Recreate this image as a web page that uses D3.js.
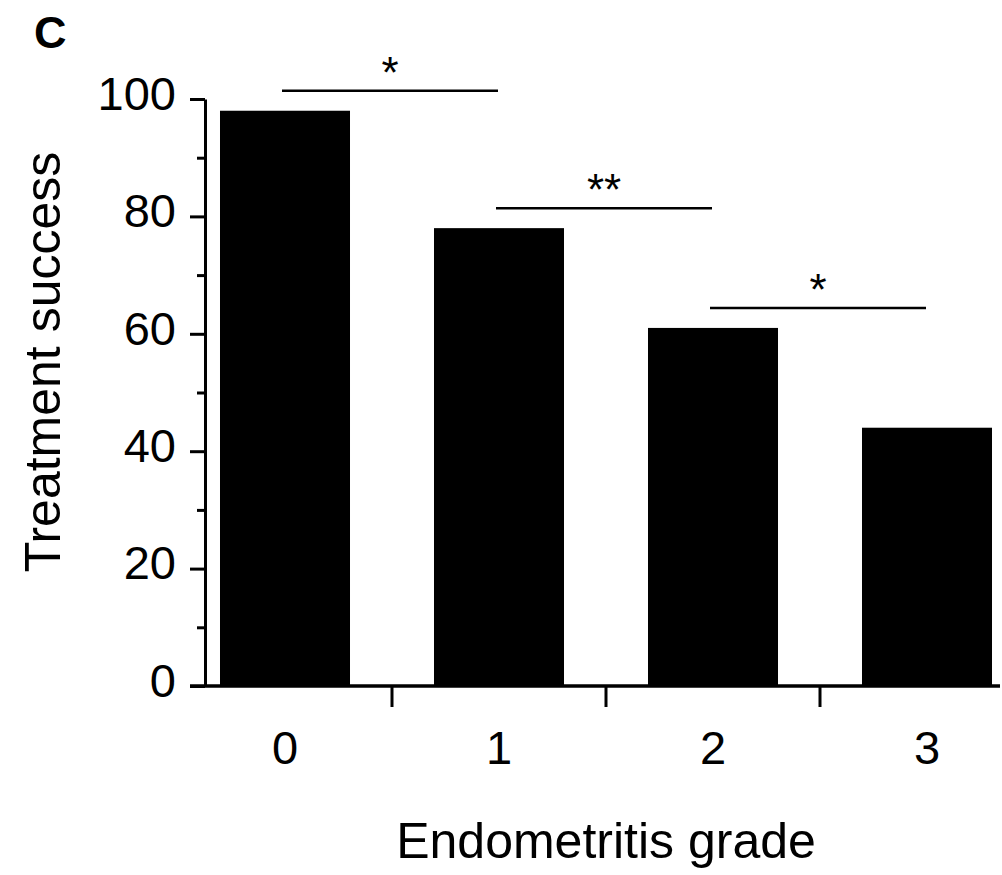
<!DOCTYPE html>
<html>
<head>
<meta charset="utf-8">
<script src="https://cdn.jsdelivr.net/npm/d3@7"></script>
<style>
  body { margin: 0; background: #fff; }
  text { font-family: "Liberation Sans", Arial, sans-serif; fill: #000; }
</style>
</head>
<body>
<script>
// Data
const grades = ["0", "1", "2", "3"];
const success = [98, 78, 61, 44];
const yTicks = [0, 20, 40, 60, 80, 100];
const yMinorTicks = [10, 30, 50, 70, 90];
// significance brackets: from grade, to grade, label, level
const sigFrom = ["0", "1", "2"];
const sigTo = ["1", "2", "3"];
const sigLabels = ["*", "**", "*"];
const sigLevels = [101.4, 81.4, 64.4];

const width = 1002, height = 875;

const svg = d3.select("body").append("svg")
    .attr("width", width)
    .attr("height", height);

// Scales
const x = d3.scaleBand()
    .domain(grades)
    .range([178, 1034])
    .paddingInner(0.3925)
    .paddingOuter(0.19625);

const y = d3.scaleLinear()
    .domain([0, 100])
    .range([686, 99]);

const axisLeftX = 205;
const step = x.step();

// Bars
svg.append("g")
    .selectAll("rect")
    .data(success)
    .enter()
    .append("rect")
    .attr("x", (d, i) => x(grades[i]))
    .attr("y", d => y(d))
    .attr("width", x.bandwidth())
    .attr("height", d => y(0) - y(d))
    .attr("fill", "#000");

// Y axis
const yAxis = svg.append("g")
    .attr("transform", `translate(${axisLeftX},0)`)
    .call(d3.axisLeft(y).tickValues(yTicks).tickSize(15).tickPadding(14).tickSizeOuter(0));

yAxis.select(".domain").attr("stroke-width", 3);
yAxis.selectAll(".tick line").attr("stroke-width", 3);
yAxis.selectAll(".tick text")
    .attr("font-size", 47)
    .attr("font-family", "Liberation Sans, Arial, sans-serif")
    .attr("dy", "0.22em");

svg.append("g")
    .attr("transform", `translate(${axisLeftX},0)`)
    .call(d3.axisLeft(y).tickValues(yMinorTicks).tickSize(8).tickFormat(""))
    .call(g => g.select(".domain").remove())
    .selectAll(".tick line").attr("stroke-width", 3);

// X axis line
svg.append("line")
    .attr("x1", axisLeftX - 15)
    .attr("x2", 1000)
    .attr("y1", y(0))
    .attr("y2", y(0))
    .attr("stroke", "#000")
    .attr("stroke-width", 3.5);

// X ticks between categories
svg.append("g")
    .selectAll("line")
    .data(grades.slice(0, -1))
    .enter()
    .append("line")
    .attr("x1", d => x(d) + x.bandwidth() + (step - x.bandwidth()) / 2)
    .attr("x2", d => x(d) + x.bandwidth() + (step - x.bandwidth()) / 2)
    .attr("y1", y(0))
    .attr("y2", y(0) + 21)
    .attr("stroke", "#000")
    .attr("stroke-width", 3);

// X tick labels
svg.append("g")
    .selectAll("text")
    .data(grades)
    .enter()
    .append("text")
    .attr("x", d => x(d) + x.bandwidth() / 2)
    .attr("y", 764)
    .attr("text-anchor", "middle")
    .attr("font-size", 47)
    .text(d => d);

// Significance brackets
const sig = svg.append("g");
sigLabels.forEach((lab, i) => {
    const x1 = x(sigFrom[i]) + x.bandwidth() / 2 - 3;
    const x2 = x(sigTo[i]) + x.bandwidth() / 2 - 1;
    sig.append("line")
        .attr("x1", x1)
        .attr("x2", x2)
        .attr("y1", y(sigLevels[i]))
        .attr("y2", y(sigLevels[i]))
        .attr("stroke", "#000")
        .attr("stroke-width", 2.5);
    sig.append("text")
        .attr("x", (x1 + x2) / 2)
        .attr("y", y(sigLevels[i]) - 3)
        .attr("text-anchor", "middle")
        .attr("font-size", 44)
        .text(lab);
});

// Axis titles
svg.append("text")
    .attr("x", 606)
    .attr("y", 858)
    .attr("text-anchor", "middle")
    .attr("font-size", 50)
    .text("Endometritis grade");

svg.append("text")
    .attr("transform", "translate(60,362) rotate(-90)")
    .attr("text-anchor", "middle")
    .attr("font-size", 50)
    .text("Treatment success");

// Panel letter
svg.append("text")
    .attr("x", 34)
    .attr("y", 48)
    .attr("font-size", 45)
    .attr("font-weight", "bold")
    .text("C");
</script>
</body>
</html>
